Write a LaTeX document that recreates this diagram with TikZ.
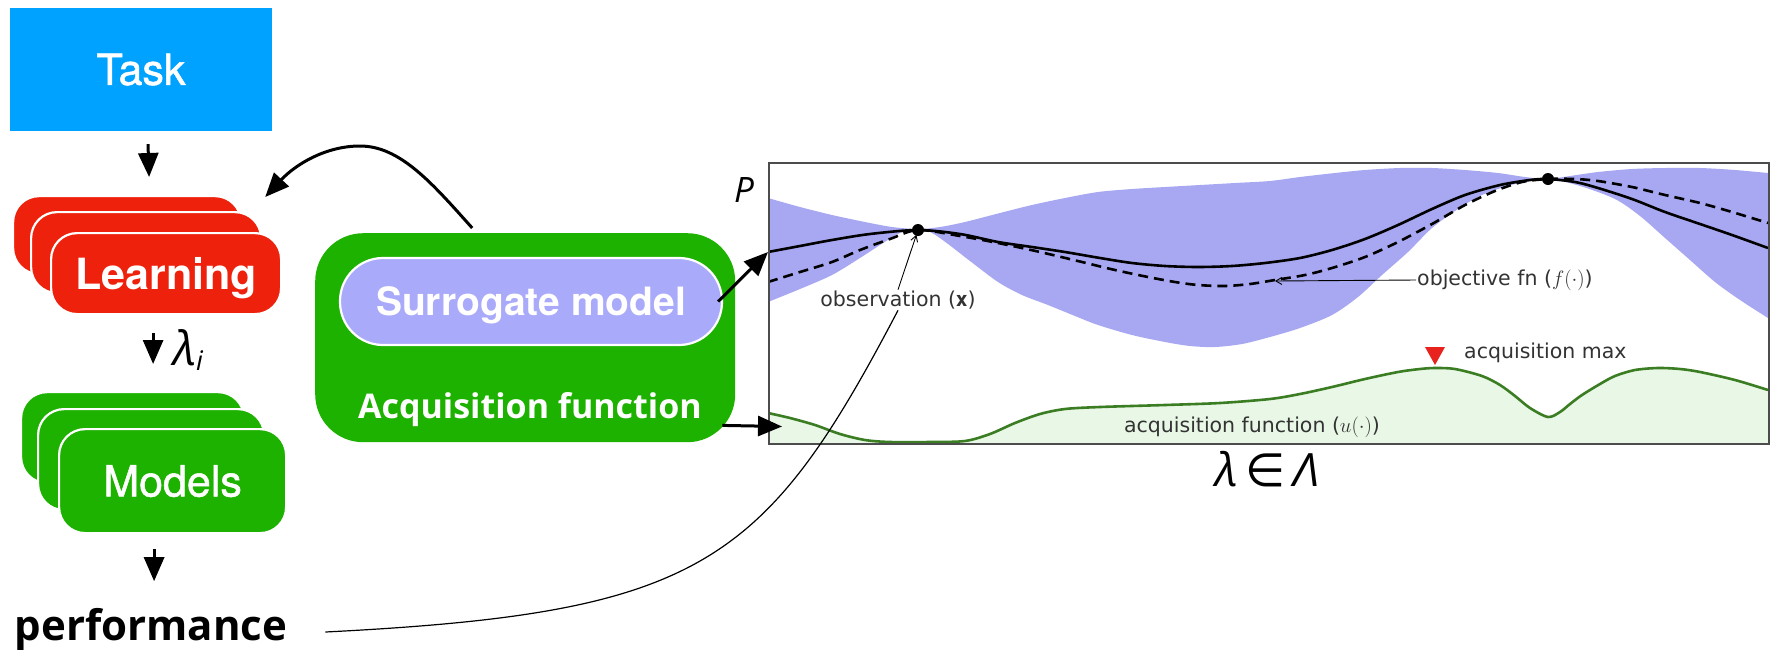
\documentclass[tikz,border=0pt]{standalone}
\usepackage{fontspec}
\setmainfont{TeX Gyre Heros}
\newfontfamily\medfont[FakeBold=1.2]{TeX Gyre Heros}
\newfontfamily\osans{Open Sans}
\newfontfamily\dvs{DejaVu Sans}
\usetikzlibrary{arrows.meta}
\definecolor{taskblue}{HTML}{00A2FF}
\definecolor{learnred}{HTML}{EE220C}
\definecolor{kgreen}{HTML}{1DB100}
\definecolor{lav}{HTML}{AAAAFA}
\definecolor{bandblue}{HTML}{A8A8F2}
\definecolor{acqline}{HTML}{3B7D23}
\definecolor{acqfill}{HTML}{E9F8E6}
\definecolor{trired}{HTML}{E8231D}
\tikzset{
  card/.style={draw=white, line width=2.2pt, rounded corners=26pt, inner sep=0pt, anchor=north west},
  bigtxt/.style={text=white, font=\medfont\fontsize{43}{50}\selectfont},
  arr/.style={line width=3pt, -{Triangle[length=24pt,width=20pt]}},
  thinarr/.style={line width=0.9pt, -{Straight Barb[length=6pt,width=7pt]}},
  lbl/.style={font=\dvs\fontsize{20.5}{24}\selectfont, text=black!80, inner sep=1pt},
  curvestyle/.style={line width=2.6pt, black},
}
\begin{document}
\begin{tikzpicture}[x=1pt,y=-1pt]
\useasboundingbox (0,0) rectangle (1773,649);

% ---- left column ----
\node[fill=taskblue, minimum width=262pt, minimum height=123pt, inner sep=0pt, bigtxt] (task) at (141,69.5) {Task};

\node[card, fill=learnred, minimum width=228pt, minimum height=78pt] (learn3) at (12,195) {};
\node[card, fill=learnred, minimum width=230pt, minimum height=81pt] (learn2) at (30,211) {};
\node[card, fill=learnred, minimum width=230pt, minimum height=81pt, text=white, font=\bfseries\fontsize{43}{50}\selectfont, text depth=0pt] (learn1) at (50,232) {Learning};

\node[card, fill=kgreen, minimum width=223pt, minimum height=91pt] (mod3) at (20,391) {};
\node[card, fill=kgreen, minimum width=226pt, minimum height=101pt] (mod2) at (37,408) {};
\node[card, fill=kgreen, minimum width=227pt, minimum height=104pt, bigtxt] (mod1) at (58,428) {Models};

\node[font=\osans\bfseries\fontsize{42}{48}\selectfont, anchor=base, inner sep=0pt] (perf) at (151,640) {performance};

\node[font=\osans\itshape\fontsize{47}{50}\selectfont, inner sep=0pt, anchor=base west] (lam) at (173,365) {λ\raisebox{-5pt}{\fontsize{27}{30}\selectfont i}};

\draw[arr] ([xshift=7pt,yshift=-13pt]task.south) -- ([xshift=22pt,yshift=18pt]learn3.north);
\draw[arr] ([xshift=-13pt,yshift=-18pt]learn1.south) -- ([xshift=20.5pt,yshift=27pt]mod3.north);
\draw[arr] ([xshift=-18.5pt,yshift=-15pt]mod1.south) -- ([xshift=-18.5pt,yshift=-47pt]mod1.south);

% ---- acquisition block ----
\node[fill=kgreen, rounded corners=48pt, minimum width=420pt, minimum height=209pt, inner sep=0pt, anchor=north west] (acq) at (315,233) {};
\node[fill=lav, draw=white, line width=2.2pt, rounded corners=43pt, minimum width=382pt, minimum height=87pt, inner sep=0pt, text=white, font=\bfseries\fontsize{39}{45}\selectfont, text depth=0pt] (surr) at (531,301.5) {Surrogate model};
\node[font=\osans\bfseries\fontsize{34}{40}\selectfont, text=white, anchor=base, inner sep=0pt] (acqtxt) at (530,418) {Acquisition function};

\draw[arr] ([shift={(-53pt,5pt)}]acq.north) .. controls (432,183) and (400,146) .. (360,146) .. controls (325,146) and (295,165) .. ([shift={(3pt,14pt)}]learn2.north east);

% ---- plot ----
\begin{scope}
\clip (768,162) rectangle (1768,443);
\fill[white] (768,162) rectangle (1768,443);
\fill[bandblue] plot[smooth] coordinates {(768,198) (800,207) (832,215) (865,222) (892,227) (918,229) (940,227) (965,222) (1000,213) (1032,205) (1065,198) (1098,192) (1132,189) (1165,187) (1200,185) (1235,183) (1270,181) (1300,177) (1335,173) (1365,170) (1400,168) (1432,168) (1465,170) (1498,173) (1525,177) (1548,179) (1570,176) (1598,172) (1632,169) (1665,168) (1700,168) (1735,170) (1768,173)}
  -- plot[smooth] coordinates {(1768,318) (1740,300) (1715,282) (1690,260) (1665,238) (1640,216) (1615,199) (1580,186) (1548,179) (1515,184) (1482,195) (1458,209) (1432,228) (1408,252) (1382,275) (1358,297) (1332,315) (1300,328) (1270,337) (1242,344) (1215,347) (1190,346) (1165,342) (1132,335) (1098,325) (1075,316) (1048,305) (1022,295) (998,282) (970,261) (948,244) (932,233) (918,229) (900,233) (880,245) (860,258) (832,275) (800,289) (768,302)} -- cycle;
\fill[acqfill] plot[smooth] coordinates {(768,413) (790,418) (815,425) (840,434) (865,440) (890,442) (930,442) (965,441) (990,434) (1015,423) (1040,414) (1065,409) (1100,407) (1165,405) (1220,403) (1270,399) (1300,394) (1332,387) (1365,379) (1398,372) (1420,369) (1435,368) (1455,369) (1482,376) (1500,385) (1515,396) (1530,408) (1548,417) (1560,412) (1570,404) (1582,395) (1600,384) (1615,376) (1635,370) (1658,368) (1680,369) (1700,372) (1735,380) (1768,390)} -- (1768,443) -- (768,443) -- cycle;
\draw[acqline, line width=2.6pt] plot[smooth] coordinates {(768,413) (790,418) (815,425) (840,434) (865,440) (890,442) (930,442) (965,441) (990,434) (1015,423) (1040,414) (1065,409) (1100,407) (1165,405) (1220,403) (1270,399) (1300,394) (1332,387) (1365,379) (1398,372) (1420,369) (1435,368) (1455,369) (1482,376) (1500,385) (1515,396) (1530,408) (1548,417) (1560,412) (1570,404) (1582,395) (1600,384) (1615,376) (1635,370) (1658,368) (1680,369) (1700,372) (1735,380) (1768,390)};
\draw[curvestyle, dash pattern=on 10pt off 6pt] plot[smooth] coordinates {(768,282) (800,272) (832,262) (860,250) (890,239) (918,230) (960,236) (998,243) (1040,252) (1082,262) (1115,270) (1148,277) (1175,282) (1198,285) (1225,286) (1250,284) (1275,280) (1305,275) (1332,268) (1365,257) (1398,242) (1432,224) (1465,205) (1495,191) (1522,182) (1548,179) (1575,179) (1598,181) (1632,187) (1665,195) (1700,203) (1732,212) (1768,223)};
\draw[curvestyle] plot[smooth] coordinates {(768,252) (800,246) (832,240) (870,234) (918,230) (960,234) (998,242) (1032,247) (1065,252) (1100,258) (1132,263) (1165,266) (1198,267) (1232,266) (1265,263) (1300,258) (1332,250) (1365,239) (1398,225) (1432,209) (1465,195) (1500,185) (1530,180) (1548,179) (1575,182) (1598,188) (1632,199) (1665,212) (1700,224) (1732,235) (1768,248)};
\end{scope}
\node[draw=black!70, line width=1.5pt, minimum width=1000pt, minimum height=281pt, anchor=north west, inner sep=0pt] (plot) at (768,162) {};

\coordinate (o1) at (918,230);
\coordinate (o2) at (1548,179);
\fill (o1) circle (6pt);
\fill (o2) circle (6pt);
\coordinate (m0) at (768,252);
\coordinate (fpt) at (1275,281);

\node[lbl, fill=white] (obs) at (898,300) {observation ($\mathbf{x}$)};
\node[lbl, anchor=west] (objl) at (1416,280) {objective fn ($f(\cdot)$)};
\node[lbl, anchor=west] (acqmax) at (1463,353) {acquisition max};
\node[lbl] (acqfn) at (1252,427) {acquisition function ($u(\cdot)$)};
\fill[trired] (1425,347) -- (1445,347) -- (1435,365) -- cycle;

\draw[thinarr, shorten >=5pt] (obs.north) -- (o1);
\draw[thinarr] (objl.west) -- (fpt);

\node[font=\osans\itshape\fontsize{35}{40}\selectfont, inner sep=0pt] (plabel) at (744,190) {P};
\node[font=\fontsize{46}{50}\selectfont, inner sep=0pt] (lamset) at (1267,469) {{\osans\itshape λ}\,{\dvs ∈}\,{\osans\itshape Λ}};

% ---- connectors to plot ----
\draw[arr] ([xshift=-5pt]surr.east) -- (m0);
\draw[arr] ([shift={(-13pt,17pt)}]acq.south east) -- ([shift={(14pt,18pt)}]plot.south west);
\draw[line width=1.2pt] ([shift={(38pt,8pt)}]perf.base east) .. controls (700,613) and (764,566) .. (obs.south);
\end{tikzpicture}
\end{document}
